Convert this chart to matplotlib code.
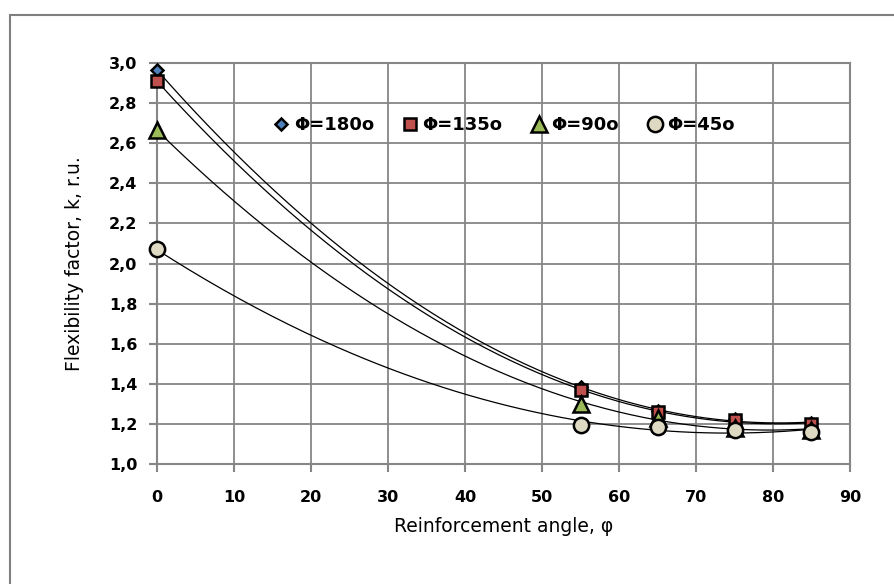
import numpy as np
import matplotlib
matplotlib.use("Agg")
import matplotlib.pyplot as plt
from matplotlib.patches import Rectangle

# angles of reinforcement
angles = [0, 55, 65, 75, 85]

# flexibility factor for each Φ
k_180 = [2.965, 1.385, 1.265, 1.225, 1.205]
k_135 = [2.91, 1.37, 1.26, 1.22, 1.20]
k_90 = [2.665, 1.30, 1.23, 1.18, 1.17]
k_45 = [2.07, 1.195, 1.185, 1.17, 1.16]

series = [
    ("Φ=180o", k_180, "D", "#4f81bd", 6.5),
    ("Φ=135o", k_135, "s", "#c0504d", 9),
    ("Φ=90o", k_90, "^", "#9bbb59", 12),
    ("Φ=45o", k_45, "o", "#ddd9c3", 11),
]

fig = plt.figure(figsize=(8.95, 5.84), dpi=100)
# outer chart frame (only left/top visible, rest falls off the image)
fig.patches.append(Rectangle((10 / 895, -0.1), 1.2, 1 - 15 / 584 + 0.1,
                             transform=fig.transFigure, fill=False,
                             edgecolor="#7f7f7f", linewidth=1.5))
ax = fig.add_axes([157 / 895, 1 - 464 / 584, (850 - 157) / 895, (464 - 63) / 584])

x = np.array(angles, dtype=float)
xs = np.linspace(0, 85, 200)
for label, k, marker, color, size in series:
    # polynomial trendline (2nd order)
    coef = np.polyfit(x, k, 2)
    ax.plot(xs, np.polyval(coef, xs), color="black", linewidth=0.9, zorder=2)
    ax.plot(x, k, linestyle="none", marker=marker, markersize=size,
            markerfacecolor=color, markeredgecolor="black", markeredgewidth=1.8,
            label=label, zorder=3, clip_on=False)

ax.set_xlim(0, 90)
ax.set_ylim(1.0, 3.0)
ax.set_xticks(range(0, 91, 10))
ax.set_yticks(np.arange(1.0, 3.01, 0.2))
ax.set_yticklabels([f"{v:.1f}".replace(".", ",") for v in np.arange(1.0, 3.01, 0.2)])
ax.grid(True, color="#868686", linewidth=1.3)
ax.set_axisbelow(True)
for side in ["left", "right", "top", "bottom"]:
    ax.spines[side].set_color("#868686")
    ax.spines[side].set_linewidth(1.5)
ax.tick_params(axis="both", direction="out", length=6, width=1.5, color="#868686",
               labelsize=11.5)
ax.tick_params(axis="x", pad=13)
ax.tick_params(axis="y", pad=8)
for t in ax.get_xticklabels() + ax.get_yticklabels():
    t.set_fontweight("bold")

ax.set_xlabel("Reinforcement angle, φ", fontsize=13.5, labelpad=8)
ax.set_ylabel("Flexibility factor, k, r.u.", fontsize=13.5, labelpad=18)

ax.legend(loc="center", bbox_to_anchor=(0.5, 0.845), ncol=4, frameon=False,
          prop={"size": 13, "weight": "bold"}, handletextpad=0.2,
          columnspacing=1.5, handlelength=1.0, markerscale=1.0)

fig.savefig("out.png", dpi=100)
